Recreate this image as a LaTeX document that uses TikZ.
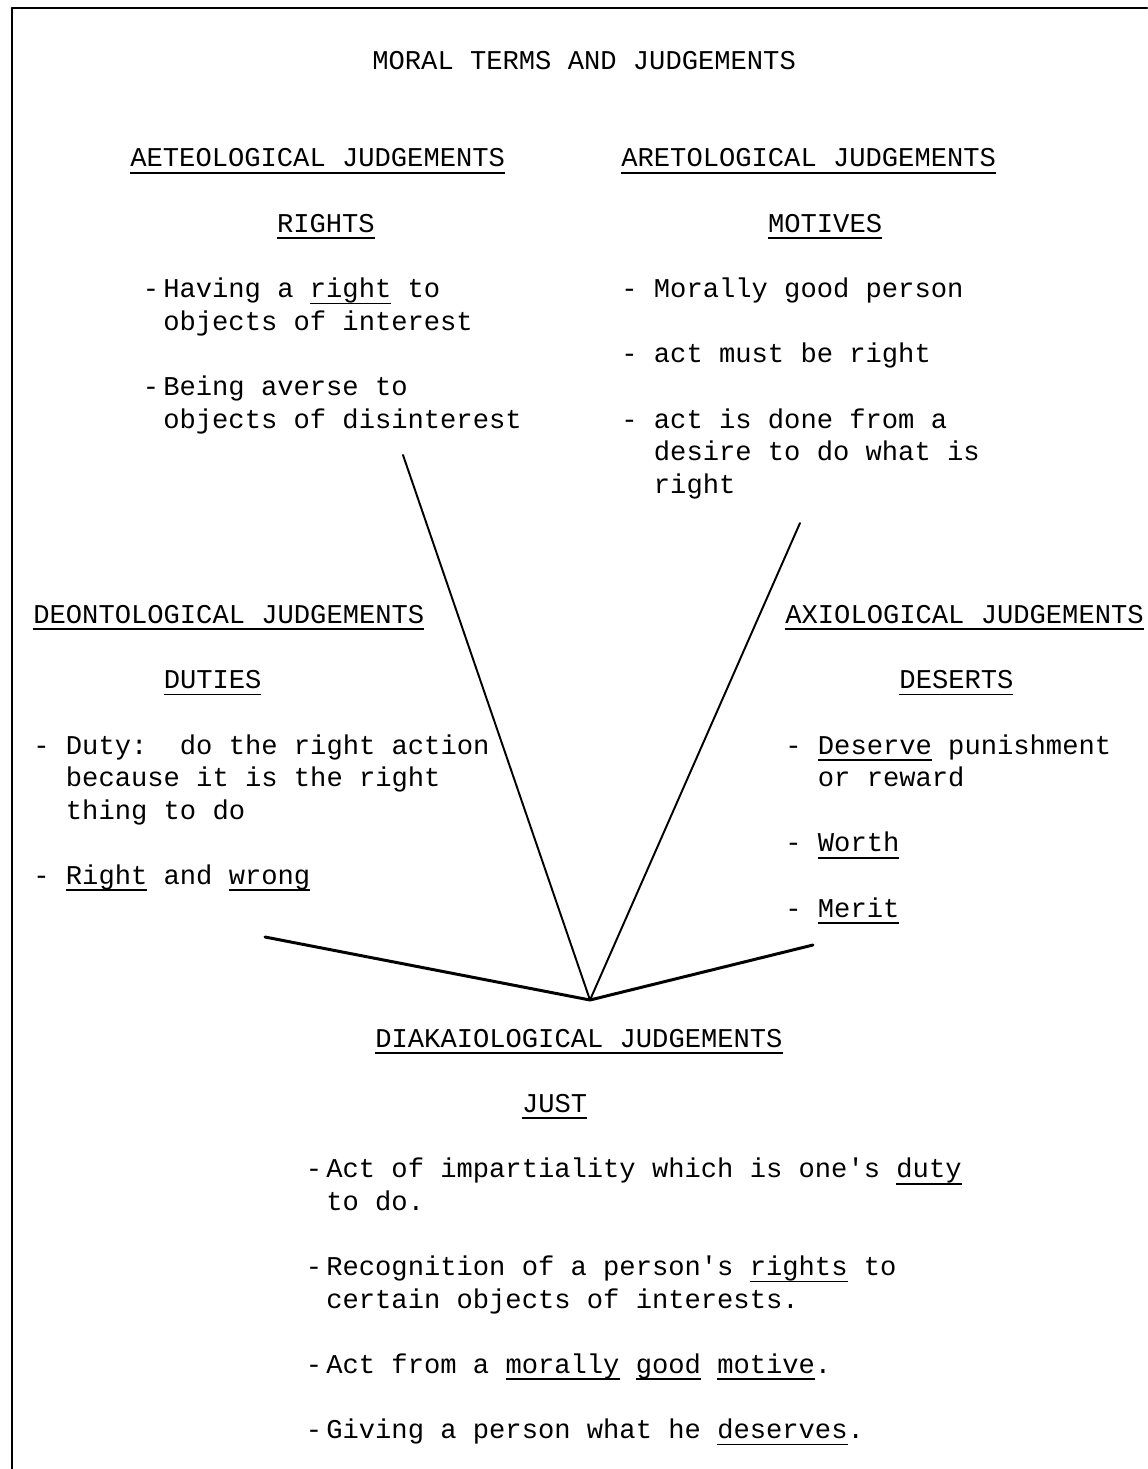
\documentclass[tikz,border=0pt]{standalone}
\usepackage{fontspec}
\setmonofont{Liberation Mono}
\usetikzlibrary{positioning}
\frenchspacing
\newcommand\ulword[1]{\setbox0=\hbox{#1}\rlap{\rule[-3.8pt]{\wd0}{1pt}}\box0\relax}
\newcommand\hang{\hphantom{- }}
\newcommand\tightdash{-\kern-0.45em\ }
\newcommand\tighthang{\hphantom{-\kern-0.45em\ }}
\newcommand\topstrut{\rule{0pt}{14pt}}
\tikzset{
  txt/.style={anchor=base west, inner sep=0pt},
  txtblock/.style={anchor=north west, inner sep=0pt, align=left, yshift=14pt},
  spoke/.style={line width=1.1pt},
  heavy spoke/.style={line width=1.7pt}
}

\begin{document}
\begin{tikzpicture}[x=0.02cm, y=-0.02cm, line join=round, line cap=round,
    font=\ttfamily\fontsize{15.45pt}{0.652cm}\selectfont]
  \def\gap{0.652cm}
  \useasboundingbox (0,0) rectangle (1147,1469);
  % frame
  \draw[line width=1.6pt] (1147,8) -- (12,8);
  \draw[line width=1pt] (12,8) -- (12,1469);
  % title
  \node[txt] (title) at (372,69.2) {MORAL TERMS AND JUDGEMENTS};
  % upper left
  \node[txt] (aeteo) at (130,167) {\ulword{AETEOLOGICAL JUDGEMENTS}};
  \node[txt] (rights) at (276.7,232.2) {\ulword{RIGHTS}};
  \node[txtblock] (rightslist) at (142.6,297.4) {\topstrut\tightdash Having a \ulword{right} to\\
    \tighthang objects of interest\\[\gap]
    \tightdash Being averse to\\
    \tighthang objects of disinterest};
  % upper right
  \node[txt] (areto) at (621,167) {\ulword{ARETOLOGICAL JUDGEMENTS}};
  \node[txt] (motives) at (767.7,232.2) {\ulword{MOTIVES}};
  \node[txtblock] (motiveslist) at (621,297.4) {\topstrut- Morally good person\\[\gap]
    - act must be right\\[\gap]
    - act is done from a\\
    \hang desire to do what is\\
    \hang right};
  % middle left
  \node[txt] (deonto) at (33,623.4) {\ulword{DEONTOLOGICAL JUDGEMENTS}};
  \node[txt] (duties) at (163.4,688.6) {\ulword{DUTIES}};
  \node[txtblock] (dutieslist) at (33,753.8) {\topstrut- Duty:~ do the right action\\
    \hang because it is the right\\
    \hang thing to do\\[\gap]
    - \ulword{Right} and \ulword{wrong}};
  % middle right
  \node[txt] (axio) at (785,623.4) {\ulword{AXIOLOGICAL JUDGEMENTS}};
  \node[txt] (deserts) at (899.1,688.6) {\ulword{DESERTS}};
  \node[txtblock] (desertslist) at (785,753.8) {\topstrut- \ulword{Deserve} punishment\\
    \hang or reward\\[\gap]
    - \ulword{Worth}\\[\gap]
    - \ulword{Merit}};
  % bottom
  \node[txt] (diak) at (375,1047.2) {\ulword{DIAKAIOLOGICAL JUDGEMENTS}};
  \node[txt] (just) at (521.7,1112.4) {\ulword{JUST}};
  \node[txtblock] (justlist) at (305.6,1177.6) {\topstrut\tightdash Act of impartiality which is one's \ulword{duty}\\
    \tighthang to do.\\[\gap]
    \tightdash Recognition of a person's \ulword{rights} to\\
    \tighthang certain objects of interests.\\[\gap]
    \tightdash Act from a \ulword{morally} \ulword{good} \ulword{motive}.\\[\gap]
    \tightdash Giving a person what he \ulword{deserves}.};
  % spokes
  \coordinate (apex) at (590,1000);
  \coordinate (aeteoEnd) at (403,455);
  \coordinate (aretoEnd) at (800,523);
  \coordinate (deontoEnd) at (265,937);
  \coordinate (axioEnd) at (813,945);
  \draw[spoke] (aeteoEnd) -- (apex);
  \draw[spoke] (aretoEnd) -- (apex);
  \draw[heavy spoke] (deontoEnd) -- (apex);
  \draw[heavy spoke] (axioEnd) -- (apex);
\end{tikzpicture}
\end{document}
